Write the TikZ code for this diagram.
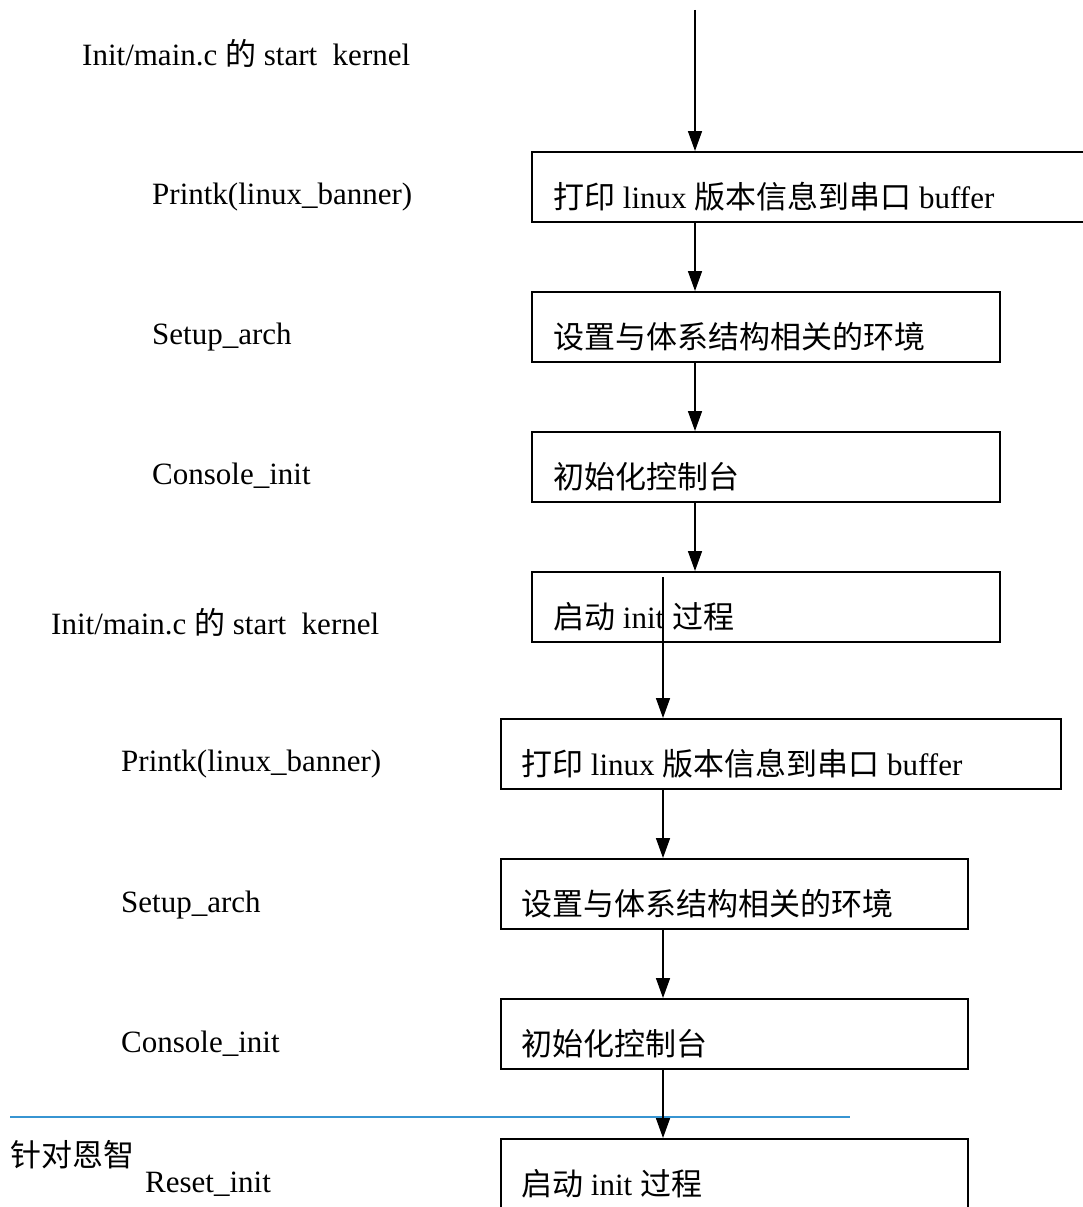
\documentclass[tikz,border=0pt]{standalone}
\usepackage{fontspec}
\setmainfont{Liberation Serif}
\newfontfamily\cjk{Noto Sans CJK SC}
\usetikzlibrary{arrows.meta}
\definecolor{rulecol}{HTML}{3795D2}
\tikzset{
  >={Triangle[length=20pt,width=14pt]},
  every node/.style={font=\fontsize{31}{37}\selectfont, inner sep=0pt},
  % --- nodes
  stepbox/.style={draw, line width=1.6pt, minimum height=70pt, anchor=north west},
  boxtxt/.style={anchor=base west},
  lbl/.style={anchor=base west},
  % --- edges
  flow/.style={->, line width=1.6pt},
}
\begin{document}
\begin{tikzpicture}[x=1pt,y=-1pt]
  \useasboundingbox (0,0) rectangle (1082,1207);
  \coordinate (axisA) at (695,0);
  \coordinate (axisB) at (663,0);
  \coordinate (top) at (695,10);
  \coordinate (inner) at (663,577);

  % upper chain
  \node[stepbox, minimum width=570pt] (b1) at (531,151) {};
  \node[stepbox, minimum width=468pt] (b2) at (531,291) {};
  \node[stepbox, minimum width=468pt] (b3) at (531,431) {};
  \node[stepbox, minimum width=468pt] (b4) at (531,571) {};
  \node[boxtxt] (t1) at (553,208) {{\cjk 打印} linux {\cjk 版本信息到串口} buffer};
  \node[boxtxt] (t2) at (553,348) {\cjk 设置与体系结构相关的环境};
  \node[boxtxt] (t3) at (553,488) {\cjk 初始化控制台};
  \node[boxtxt] (t4) at (553,628) {{\cjk 启动} init {\cjk 过程}};

  % lower chain
  \node[stepbox, minimum width=560pt] (b5) at (500,718) {};
  \node[stepbox, minimum width=467pt] (b6) at (500,858) {};
  \node[stepbox, minimum width=467pt] (b7) at (500,998) {};
  \node[stepbox, minimum width=467pt, minimum height=90pt] (b8) at (500,1138) {};
  \node[boxtxt] (t5) at (521,775) {{\cjk 打印} linux {\cjk 版本信息到串口} buffer};
  \node[boxtxt] (t6) at (521,915) {\cjk 设置与体系结构相关的环境};
  \node[boxtxt] (t7) at (521,1055) {\cjk 初始化控制台};
  \node[boxtxt] (t8) at (521,1195) {{\cjk 启动} init {\cjk 过程}};

  % left labels
  \node[lbl] (l1) at (82,66) {Init/main.c {\cjk 的} start\ \ kernel};
  \node[lbl] (l2) at (152,204) {Printk(linux\_banner)};
  \node[lbl] (l3) at (152,344) {Setup\_arch};
  \node[lbl] (l4) at (152,484) {Console\_init};
  \node[lbl] (l5) at (51,634) {Init/main.c {\cjk 的} start\ \ kernel};
  \node[lbl] (l6) at (121,771) {Printk(linux\_banner)};
  \node[lbl] (l7) at (121,912) {Setup\_arch};
  \node[lbl] (l8) at (121,1052) {Console\_init};
  \node[lbl] (l9) at (10,1166) {\cjk 针对恩智};
  \node[lbl] (l10) at (145,1192) {Reset\_init};

  % separator
  \coordinate (sepL) at (10,1117);
  \coordinate (sepR) at (850,1117);
  \draw[rulecol, line width=2pt] (sepL) -- (sepR);

  % connectors
  \draw[flow] (top) -- (b1.north -| axisA);
  \draw[flow] (b1.south -| axisA) -- (b2.north -| axisA);
  \draw[flow] (b2.south -| axisA) -- (b3.north -| axisA);
  \draw[flow] (b3.south -| axisA) -- (b4.north -| axisA);
  \draw[flow] (inner) -- (b5.north -| axisB);
  \draw[flow] (b5.south -| axisB) -- (b6.north -| axisB);
  \draw[flow] (b6.south -| axisB) -- (b7.north -| axisB);
  \draw[flow] (b7.south -| axisB) -- (b8.north -| axisB);
\end{tikzpicture}
\end{document}
